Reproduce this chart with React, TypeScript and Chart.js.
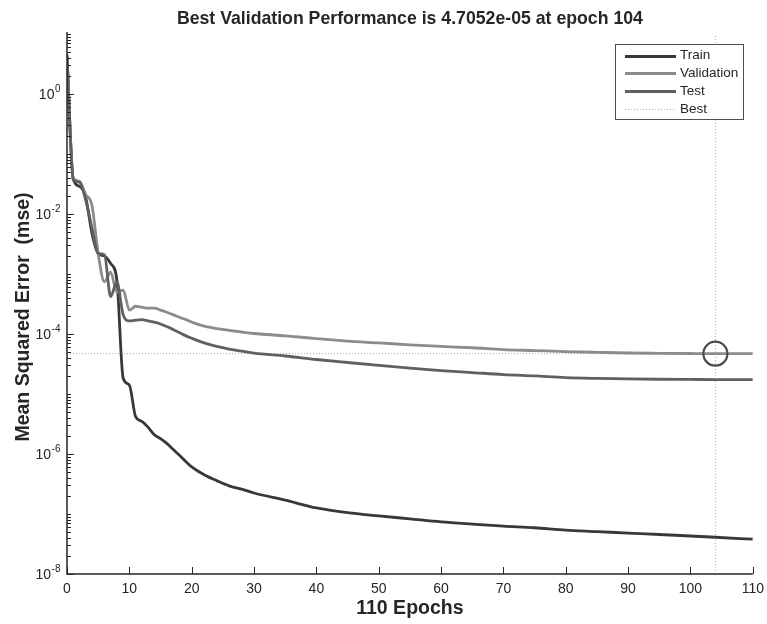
import React, { useEffect, useRef } from 'react';
import { Chart, registerables } from 'chart.js';

Chart.register(...registerables);

// ---------- data ----------
const epochs = [
  0, 1, 2, 3, 4, 5, 6, 7, 8, 9, 10, 11, 12, 13, 14, 15, 16, 17, 18, 19, 20,
  22, 24, 26, 28, 30, 35, 40, 45, 50, 55, 60, 65, 70, 75, 80, 85, 90, 95, 100, 104, 110,
];

const trainMse = [
  4.2, 3.8e-2, 2.9e-2, 1.9e-2, 4.8e-3, 2.2e-3, 2.0e-3, 1.5e-3, 7.9e-4, 1.85e-5, 1.41e-5,
  4.2e-6, 3.5e-6, 2.8e-6, 2.1e-6, 1.8e-6, 1.5e-6, 1.2e-6, 9.6e-7, 7.6e-7, 6.1e-7,
  4.5e-7, 3.6e-7, 2.95e-7, 2.6e-7, 2.24e-7, 1.7e-7, 1.26e-7, 1.05e-7, 9.3e-8, 8.3e-8,
  7.4e-8, 6.8e-8, 6.3e-8, 5.9e-8, 5.4e-8, 5.1e-8, 4.8e-8, 4.55e-8, 4.3e-8, 4.1e-8, 3.8e-8,
];

const validationMse = [
  4.0, 4.0e-2, 3.5e-2, 2.1e-2, 1.4e-2, 2.2e-3, 7.4e-4, 1.07e-3, 5.0e-4, 5.4e-4, 2.5e-4,
  2.9e-4, 2.8e-4, 2.7e-4, 2.7e-4, 2.5e-4, 2.3e-4, 2.1e-4, 1.9e-4, 1.75e-4, 1.58e-4,
  1.35e-4, 1.23e-4, 1.15e-4, 1.08e-4, 1.02e-4, 9.3e-5, 8.4e-5, 7.6e-5, 7.1e-5, 6.6e-5,
  6.2e-5, 5.9e-5, 5.5e-5, 5.3e-5, 5.1e-5, 4.95e-5, 4.82e-5, 4.77e-5, 4.73e-5, 4.7052e-5, 4.71e-5,
];

const testMse = [
  4.6, 3.8e-2, 3.4e-2, 1.7e-2, 5.9e-3, 2.2e-3, 2.1e-3, 4.2e-4, 7.4e-4, 2.1e-4, 1.65e-4,
  1.7e-4, 1.73e-4, 1.65e-4, 1.58e-4, 1.47e-4, 1.33e-4, 1.19e-4, 1.06e-4, 9.4e-5, 8.5e-5,
  7.1e-5, 6.2e-5, 5.6e-5, 5.2e-5, 4.8e-5, 4.3e-5, 3.76e-5, 3.35e-5, 3.0e-5, 2.7e-5,
  2.46e-5, 2.28e-5, 2.11e-5, 2.0e-5, 1.88e-5, 1.82e-5, 1.78e-5, 1.76e-5, 1.75e-5, 1.74e-5, 1.74e-5,
];

const bestEpoch = 104;
const bestValue = 4.7052e-5;

const xMin = 0;
const xMax = 110;
const yMin = 1e-8;
const yMax = 10;

const xTickValues = [0, 10, 20, 30, 40, 50, 60, 70, 80, 90, 100, 110];
const yLabelExponents = [0, -2, -4, -6, -8];

const titleText = 'Best Validation Performance is 4.7052e-05 at epoch 104';
const xTitleText = '110 Epochs';
const yTitleText = 'Mean Squared Error  (mse)';
const legendLabels = ['Train', 'Validation', 'Test', 'Best'];

// ---------- styles ----------
const FONT = "'Liberation Sans', Arial, Helvetica, sans-serif";
const AXIS_COLOR = '#262626';
const TRAIN_COLOR = '#383838';
const VAL_COLOR = '#8c8c8c';
const TEST_COLOR = '#606060';
const BEST_COLOR = '#a8a8a8';
const CIRCLE_COLOR = '#4a4a4a';

const toPoints = (ys: number[]) => epochs.map((e, i) => ({ x: e, y: ys[i] }));

const decorPlugin = {
  id: 'matlabDecor',
  afterDraw(chart: any) {
    const { ctx, chartArea: a, scales } = chart;
    const xs = scales.x;
    const ys = scales.y;
    ctx.save();

    // axes lines
    ctx.strokeStyle = AXIS_COLOR;
    ctx.lineWidth = 1.5;
    ctx.beginPath();
    ctx.moveTo(a.left, a.top - 2);
    ctx.lineTo(a.left, a.bottom);
    ctx.lineTo(a.right, a.bottom);
    ctx.stroke();

    // y ticks (log minor + major)
    ctx.lineWidth = 1;
    for (let d = -8; d <= 1; d++) {
      for (let m = 1; m <= 9; m++) {
        const v = m * Math.pow(10, d);
        if (v < yMin * 0.999 || v > yMax * 1.001) continue;
        const py = Math.round(ys.getPixelForValue(v)) + 0.5;
        const major = m === 1 && d % 2 === 0;
        const len = major ? 7 : 4;
        ctx.beginPath();
        ctx.moveTo(a.left, py);
        ctx.lineTo(a.left + len, py);
        ctx.stroke();
      }
    }

    // x ticks
    for (const t of xTickValues) {
      const px = Math.round(xs.getPixelForValue(t)) + 0.5;
      ctx.beginPath();
      ctx.moveTo(px, a.bottom);
      ctx.lineTo(px, a.bottom - 7);
      ctx.stroke();
    }

    ctx.fillStyle = AXIS_COLOR;

    // x tick labels
    ctx.font = `14px ${FONT}`;
    ctx.textAlign = 'center';
    ctx.textBaseline = 'middle';
    for (const t of xTickValues) {
      ctx.fillText(String(t), xs.getPixelForValue(t), a.bottom + 15);
    }

    // y tick labels: 10^e
    for (const e of yLabelExponents) {
      const py = ys.getPixelForValue(Math.pow(10, e));
      const right = a.left - 6.5;
      ctx.font = `10px ${FONT}`;
      const expStr = String(e);
      const ew = ctx.measureText(expStr).width;
      ctx.textAlign = 'left';
      ctx.textBaseline = 'middle';
      ctx.fillText(expStr, right - ew, py - 5);
      ctx.font = `14px ${FONT}`;
      ctx.textAlign = 'right';
      ctx.fillText('10', right - ew - 0.5, py + 1.5);
    }

    // x title
    ctx.font = `bold 19.5px ${FONT}`;
    ctx.textAlign = 'center';
    ctx.textBaseline = 'middle';
    ctx.fillText(xTitleText, (a.left + a.right) / 2, a.bottom + 35);

    // y title
    ctx.save();
    ctx.translate(24, 317);
    ctx.rotate(-Math.PI / 2);
    ctx.fillText(yTitleText, 0, 0);
    ctx.restore();

    // title
    ctx.font = `bold 17.7px ${FONT}`;
    ctx.fillText(titleText, (a.left + a.right) / 2, 19);

    // legend
    const lx0 = 615;
    const lx1 = 743;
    const ly0 = 44;
    const ly1 = 119;
    ctx.fillStyle = '#ffffff';
    ctx.fillRect(lx0, ly0, lx1 - lx0, ly1 - ly0);
    ctx.strokeStyle = '#4d4d4d';
    ctx.lineWidth = 1;
    ctx.strokeRect(lx0 + 0.5, ly0 + 0.5, lx1 - lx0, ly1 - ly0);
    const rowColors = [TRAIN_COLOR, VAL_COLOR, TEST_COLOR, BEST_COLOR];
    ctx.font = `13.5px ${FONT}`;
    ctx.textAlign = 'left';
    ctx.textBaseline = 'middle';
    legendLabels.forEach((lab, i) => {
      const cy = ly0 + 11.5 + i * 17.8;
      ctx.strokeStyle = rowColors[i];
      if (i === 3) {
        ctx.lineWidth = 1;
        ctx.setLineDash([1, 2]);
      } else {
        ctx.lineWidth = 2.8;
        ctx.setLineDash([]);
      }
      ctx.beginPath();
      ctx.moveTo(625, Math.round(cy) + 0.5);
      ctx.lineTo(676, Math.round(cy) + 0.5);
      ctx.stroke();
      ctx.setLineDash([]);
      ctx.fillStyle = AXIS_COLOR;
      ctx.fillText(lab, 680, cy);
    });

    ctx.restore();
  },
};

export default function App() {
  const canvasRef = useRef<HTMLCanvasElement | null>(null);

  useEffect(() => {
    document.body.style.margin = '0';
    const canvas = canvasRef.current;
    if (!canvas) return;
    const chart = new Chart(canvas, {
      type: 'line',
      data: {
        datasets: [
          {
            label: 'BestCircle',
            data: [{ x: bestEpoch, y: bestValue }],
            showLine: false,
            pointRadius: 12,
            pointBorderWidth: 2.2,
            pointBorderColor: CIRCLE_COLOR,
            pointBackgroundColor: 'rgba(0,0,0,0)',
            order: 0,
          },
          {
            label: 'Test',
            data: toPoints(testMse),
            borderColor: TEST_COLOR,
            borderWidth: 2.8,
            pointRadius: 0,
            cubicInterpolationMode: 'monotone',
            order: 1,
          },
          {
            label: 'Validation',
            data: toPoints(validationMse),
            borderColor: VAL_COLOR,
            borderWidth: 2.8,
            pointRadius: 0,
            cubicInterpolationMode: 'monotone',
            order: 2,
          },
          {
            label: 'Train',
            data: toPoints(trainMse),
            borderColor: TRAIN_COLOR,
            borderWidth: 2.8,
            pointRadius: 0,
            cubicInterpolationMode: 'monotone',
            order: 3,
          },
          {
            label: 'BestV',
            data: [
              { x: bestEpoch, y: yMin },
              { x: bestEpoch, y: yMax },
            ],
            borderColor: BEST_COLOR,
            borderWidth: 1,
            borderDash: [1, 2],
            pointRadius: 0,
            order: 4,
          },
          {
            label: 'BestH',
            data: [
              { x: xMin, y: bestValue },
              { x: xMax, y: bestValue },
            ],
            borderColor: BEST_COLOR,
            borderWidth: 1,
            borderDash: [1, 2],
            pointRadius: 0,
            order: 5,
          },
        ],
      } as any,
      options: {
        responsive: false,
        animation: false,
        layout: { padding: { left: 67, right: 11, top: 34, bottom: 50 } },
        plugins: {
          legend: { display: false },
          tooltip: { enabled: false },
          title: { display: false },
        },
        scales: {
          x: { type: 'linear', min: xMin, max: xMax, display: false },
          y: { type: 'logarithmic', min: yMin, max: yMax, display: false },
        },
      } as any,
      plugins: [decorPlugin],
    });
    return () => chart.destroy();
  }, []);

  return (
    <div style={{ width: 767, height: 624, background: '#ffffff' }}>
      <canvas ref={canvasRef} width={767} height={624} style={{ display: 'block' }} />
    </div>
  );
}
